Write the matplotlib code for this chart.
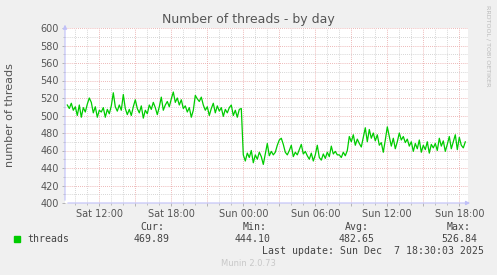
import matplotlib
matplotlib.use("Agg")
import matplotlib.pyplot as plt
import numpy as np

# 10-minute samples, Sat 09:20 -> Sun 18:30 (hours since Sat 00:00)
start_hour = 9 + 20 / 60.0
step_hour = 1 / 6.0

threads_sat = [
    512, 508, 514, 506, 510, 500, 512, 498, 509, 504, 513, 520, 515, 503, 510, 498, 506,
    504, 509, 498, 507, 502, 511, 526, 510, 505, 512, 506, 524, 508, 501, 507, 500,
    510, 518, 508, 503, 511, 497, 506, 502, 512, 507, 515, 509, 501, 510, 521, 506,
    512, 516, 510, 519, 526.84, 515, 520, 512, 518, 508, 511, 504, 509, 498, 506, 523,
    519, 516, 521, 512, 506, 510, 500, 508, 514, 503, 511, 505, 509, 499, 507, 503,
    509, 512, 500, 506, 498, 507, 508,
]
threads_sun = [
    455, 448, 457, 452, 460, 446, 455, 450, 458, 453, 444.1, 456, 468, 454, 459, 455,
    458, 466, 472, 474, 467, 458, 455, 460, 466, 453, 458, 455, 461, 467, 456, 459,
    454, 450, 457, 448, 455, 466, 452, 449, 456, 451, 458, 453, 465, 456, 459, 455,
    455, 452, 458, 454, 460, 476, 470, 478, 466, 473, 468, 464, 475, 486, 470, 484,
    474, 480, 471, 478, 466, 469, 458, 472, 487, 476, 465, 474, 462, 470, 480, 472,
    476, 469, 473, 465, 470, 459, 468, 462, 472, 458, 466, 461, 470, 457, 467, 463,
    468, 460, 474, 465, 471, 459, 467, 476, 462, 470, 478, 461, 475, 466, 463, 469.89,
]

tick_hours = [12, 18, 24, 30, 36, 42]
tick_labels = ["Sat 12:00", "Sat 18:00", "Sun 00:00", "Sun 06:00", "Sun 12:00", "Sun 18:00"]

legend_cur, legend_min, legend_avg, legend_max = "469.89", "444.10", "482.65", "526.84"
last_update = "Last update: Sun Dec  7 18:30:03 2025"

values = np.array(threads_sat + threads_sun)
hours = start_hour + step_hour * np.arange(len(values))

W, H = 497, 275
fig = plt.figure(figsize=(W / 100, H / 100), dpi=100, facecolor="#F0F0F0")
ax = fig.add_axes([65 / W, (H - 203) / H, (468 - 65) / W, 175 / H])
ax.set_facecolor("white")

ax.plot(hours, values, color="#00CC00", lw=0.9, zorder=3)

# grid: minor grey, major pink-red
ax.set_xticks(np.arange(3, 45, 3))
ax.set_xticks(np.arange(9, 43, 1), minor=True)
ax.set_xticklabels([tick_labels[tick_hours.index(h)] if h in tick_hours else ""
                    for h in np.arange(3, 45, 3)])
ax.set_yticks(np.arange(400, 601, 20))
ax.set_yticks(np.arange(400, 601, 10), minor=True)
ax.grid(which="minor", color="#C8C8C8", ls=(0, (1, 1.5)), lw=0.6)
ax.grid(which="major", color="#E8A0A0", ls=(0, (1, 1.5)), lw=0.6)

ax.set_xlim(24 - 178.3 / 12, 24 + 224.7 / 12)
ax.set_ylim(400, 600)

ax.tick_params(which="both", direction="out", color="#AAAAAA", labelcolor="#555555",
               labelsize=7, pad=2)
ax.tick_params(which="major", length=2.5, width=0.6)
ax.tick_params(which="minor", length=1.5, width=0.5)

for s in ax.spines.values():
    s.set_visible(False)
axis_col = "#C0C0F8"
ax.annotate("", xy=(0, 1.035), xytext=(0, 0), xycoords="axes fraction",
            arrowprops=dict(arrowstyle="-|>", color=axis_col, lw=0.8, mutation_scale=6))
ax.annotate("", xy=(1.012, 0), xytext=(0, 0), xycoords="axes fraction",
            arrowprops=dict(arrowstyle="-|>", color=axis_col, lw=0.8, mutation_scale=6))

fig.text(248 / W, 1 - 19 / H, "Number of threads - by day", ha="center", va="center",
         fontsize=9, color="#555555")
fig.text(10 / W, 1 - 115 / H, "number of threads", rotation=90, ha="center", va="center",
         fontsize=8, color="#555555")
fig.text(488 / W, 1 - 5 / H, "RRDTOOL / TOBI OETIKER", rotation=270, ha="center", va="top",
         fontsize=4.6, color="#BBBBBB")

mono = dict(family="DejaVu Sans Mono", fontsize=7.1, color="#444444", va="center")
fig.patches.append(plt.Rectangle((14 / W, 1 - 242 / H), 6 / W, 6 / H,
                                 transform=fig.transFigure, color="#00CC00"))
fig.text(27 / W, 1 - 239 / H, "threads", **mono)
for x_head, x_val, head, val in [(140, 134, "Cur:", legend_cur), (243, 235, "Min:", legend_min),
                                 (345, 339, "Avg:", legend_avg), (447, 441, "Max:", legend_max)]:
    fig.text(x_head / W, 1 - 227 / H, head, **mono)
    fig.text(x_val / W, 1 - 239 / H, val, **mono)
fig.text(262 / W, 1 - 251 / H, last_update, **mono)
fig.text(248 / W, 1 - 264 / H, "Munin 2.0.73", ha="center", va="center",
         fontsize=6, color="#C8C8C8")

fig.savefig("out.png", dpi=100, facecolor=fig.get_facecolor())
